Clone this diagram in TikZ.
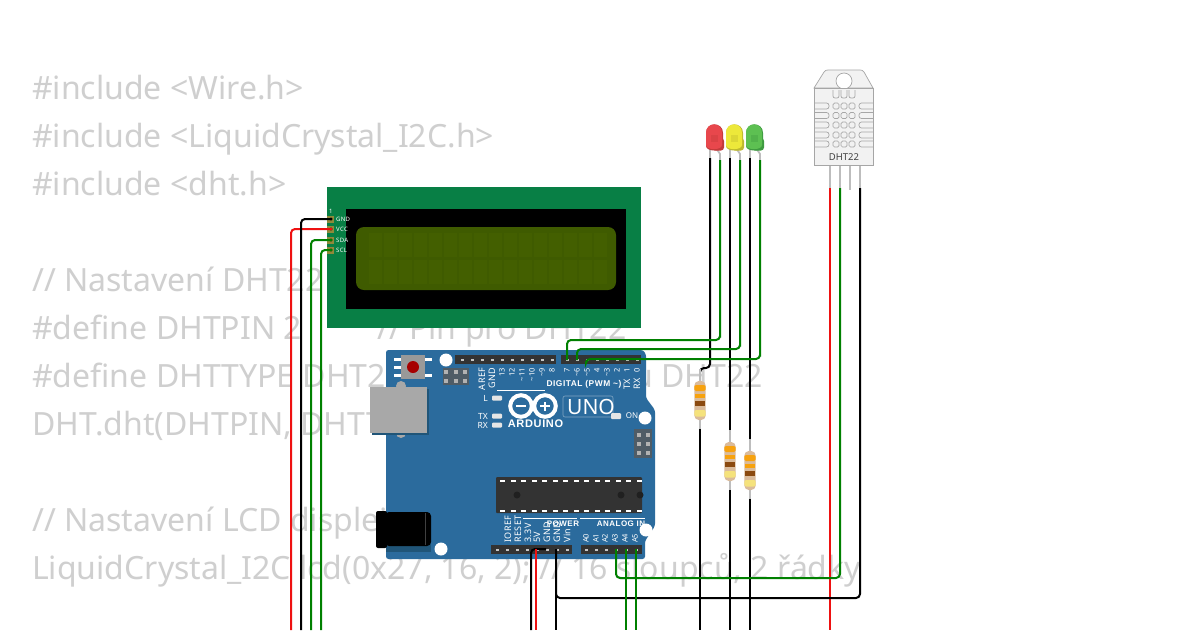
\documentclass[tikz,border=0pt]{standalone}
\usepackage{fontspec}
\setmainfont{Noto Sans}
\newfontfamily\silkfont[LetterSpace=6]{Liberation Sans}
\newfontfamily\pinfont[LetterSpace=5]{Noto Sans}
\definecolor{codegray}{HTML}{CFCFCF}
\definecolor{lcdgreen}{HTML}{087F45}
\definecolor{lcdscreen}{HTML}{3F5B00}
\definecolor{lcdcell}{HTML}{435F00}
\definecolor{board}{HTML}{2B6B9D}
\definecolor{boarddark}{HTML}{205578}
\definecolor{hdr}{HTML}{333333}
\definecolor{icspgray}{HTML}{4F5C66}
\definecolor{wiregreen}{HTML}{008000}
\definecolor{wirered}{HTML}{EE1111}
\definecolor{restan}{HTML}{DABB9B}
\definecolor{resor}{HTML}{F7A20E}
\definecolor{resbr}{HTML}{8B4A10}
\definecolor{resgo}{HTML}{F5E27C}
\definecolor{leadgray}{HTML}{BDBDBD}
\definecolor{usbgray}{HTML}{A8A8A8}
\definecolor{ledRm}{HTML}{E8474C}
\definecolor{ledRd}{HTML}{C23A3A}
\definecolor{ledYm}{HTML}{EDE83A}
\definecolor{ledYd}{HTML}{BDB92E}
\definecolor{ledGm}{HTML}{5DC052}
\definecolor{ledGd}{HTML}{3E9A40}
\tikzset{
 code/.style={anchor=base west,text=codegray,font=\fontsize{32}{32}\selectfont,inner sep=0pt},
 wire/.style={line width=2pt,rounded corners=4pt},
 lead/.style={line width=2.2pt,draw=leadgray},
 pinlab/.style={rotate=90,text=white,font=\pinfont\fontsize{9}{9}\selectfont,inner sep=0pt},
 pinlabsmall/.style={rotate=90,text=white,font=\fontsize{7.5}{8}\selectfont,inner sep=0pt},
 pinlabt/.style={pinlab,anchor=east},
 pinlabb/.style={pinlab,anchor=west},
 numlab/.style={pinlabsmall,anchor=east},
 analab/.style={pinlabsmall,anchor=west},
 silk/.style={text=white,font=\silkfont\bfseries\fontsize{8}{8}\selectfont,inner sep=0pt},
 lcdlab/.style={text=white,font=\pinfont\fontsize{6}{6}\selectfont,inner sep=0pt,anchor=west},
 hole/.style={circle,fill=white,minimum size=13pt,inner sep=0pt},
 ledchip/.style={fill=white!90!black,draw=none,rounded corners=1pt},
 dhtline/.style={draw=gray!70,line width=.7pt},
}
\newcommand{\resistorat}[3]{% x, y of body top, name
 \coordinate (#3top) at (#1,#2-12);
 \coordinate (#3bot) at (#1,#2+48);
 \draw[lead] (#3top) -- (#3bot);
 \fill[restan,rounded corners=4.5pt] (#1-5.7,#2) rectangle (#1+5.7,#2+39);
 \fill[resor,rounded corners=1.5pt] (#1-5.7,#2+4) rectangle (#1+5.7,#2+10);
 \fill[resor] (#1-4.8,#2+12.5) rectangle (#1+4.8,#2+17);
 \fill[resbr] (#1-4.8,#2+20) rectangle (#1+4.8,#2+24.5);
 \fill[resgo,rounded corners=2pt] (#1-5.7,#2+29) rectangle (#1+5.7,#2+35.5);
}
\newcommand{\ledat}[4]{% x left, main colour, dark colour, name
 \draw[leadgray,line width=1.8pt] (#1+4,148) -- (#1+4,159);
 \draw[leadgray,line width=1.8pt] (#1+10,148) -- (#1+14,154) -- (#1+14,161);
 \fill[#3,rounded corners=3pt] (#1+6,138) rectangle (#1+18,150.5);
 \fill[#3] (#1,133) .. controls (#1,121.5) and (#1+17,121.5) .. (#1+17,133) -- (#1+17,146) .. controls (#1+17,152) and (#1,152) .. (#1,146) -- cycle;
 \fill[#2] (#1,133) .. controls (#1,121.5) and (#1+16,121.5) .. (#1+16,133) -- (#1+16,145) .. controls (#1+16,150.5) and (#1,150.5) .. (#1,145) -- cycle;
 \fill[#3,opacity=.35] (#1+5,135) rectangle (#1+12,142);
 \coordinate (#4k) at (#1+4,158);
 \coordinate (#4a) at (#1+14,160);
}
\begin{document}
\begin{tikzpicture}[x=1pt,y=-1pt]
\useasboundingbox (0,0) rectangle (1200,630);
\fill[white] (0,0) rectangle (1200,630);
% ---- code text
\node[code] (t1) at (32,99) {\#include <Wire.h>};
\node[code] (t2) at (32,147) {\#include <LiquidCrystal\_I2C.h>};
\node[code] (t3) at (32,195) {\#include <dht.h>};
\node[code] (t4) at (32,291) {// Nastavení DHT22};
\node[code] (t5) at (32,339) {\#define DHTPIN 2};
\node[code] (t5b) at (377,339) {// Pin pro DHT22};
\node[code] (t6) at (32,387) {\#define DHTTYPE DHT22};
\node[code,anchor=base east] (t6b) at (763,387) {// Typ senzoru DHT22};
\node[code] (t7) at (32,435) {DHT.dht(DHTPIN, DHTTYPE);};
\node[code] (t8) at (32,531) {// Nastavení LCD displeje (0x27 je běžná)};
\node[code] (t9) at (32,579) {LiquidCrystal\_I2C lcd(0x27, 16, 2); // 16 sloupců, 2 řádky};
% ---- LCD
\fill[lcdgreen] (327,187) rectangle (641,328);
\fill[black] (346,209) rectangle (626,309);
\fill[lcdscreen,rounded corners=8pt] (356,227) rectangle (616,290);
\foreach \c in {0,...,15}{
 \fill[lcdcell] ({369+\c*15},233) rectangle ({382+\c*15},257);
 \fill[lcdcell] ({369+\c*15},260) rectangle ({382+\c*15},284);
}
\foreach \y/\n/\t in {219/GND/GND,229/VCC/VCC,240/SDA/SDA,250/SCL/SCL}{
 \fill[olive!60!gray] (327,\y-3.5) rectangle (334,\y+3.5);
 \fill[black] (331,\y) circle (1.6);
 \node[lcdlab] (lab\n) at (336,\y) {\t};
 \coordinate (lcd\n) at (332,\y);
}
\node[lcdlab] (lcdone) at (329,211) {1};
% ---- Arduino board
\fill[board,rounded corners=2.5pt] (386,350) -- (643,350) -- (646,354) -- (646,398) -- (655,410) -- (655,526) -- (645,541) -- (645,559) -- (386,559) -- cycle;
% USB
\fill[usbgray] (401,386) circle (5);
\fill[usbgray] (401,433) circle (5);
\fill[boarddark] (372,389) rectangle (429,435);
\fill[usbgray] (370,387) rectangle (427,433);
% Jack
\fill[boarddark] (386,540) rectangle (431,552);
\fill[black,rounded corners=2pt] (376,511) rectangle (387,548);
\fill[black,rounded corners=4pt] (385,512) rectangle (431,546);
\draw[gray!50!black,line width=.6pt] (425,513) -- (425,545);
% Reset button
\foreach \y in {359,367,375}{\fill[white] (394,\y-1.5) rectangle (402,\y+1.5);}
\foreach \y in {359,375}{\fill[white] (424,\y-1.5) rectangle (432,\y+1.5);}
\fill[gray!80] (401,355) rectangle (425,379);
\fill[red!65!black] (413,367) circle (6);
% ICSP top-left
\fill[icspgray] (443,368) rectangle (469,385);
\foreach \x in {446,456,465}\foreach \y in {372,381}{\fill[gray!60] (\x-2,\y-2) rectangle (\x+2,\y+2);}
% Holes
\node[hole] (h1) at (446,360) {};
\node[hole] (h2) at (645,418) {};
\node[hole] (h3) at (646,530) {};
\node[hole] (h4) at (441,549) {};
% Headers
\fill[hdr] (455,355) rectangle (556,364);
\fill[hdr] (561,355) rectangle (641,364);
\fill[hdr] (491,545) rectangle (572,554);
\fill[hdr] (581,545) rectangle (642,554);
\foreach \x in {462,472,...,552,567,577,...,637}{\fill[gray!45] (\x-1.5,358.5) rectangle (\x+1.5,360.5);}
\foreach \x in {497,507,...,567,586,596,...,636}{\fill[gray!45] (\x-1.5,548.5) rectangle (\x+1.5,550.5);}
% Top labels
\node[pinlabt] (larf) at (482,367.5) {AREF};
\node[pinlabt] (lgnd) at (492,367.5) {GND};
\foreach \x/\t in {502/13,512/12,522/\textasciitilde 11,532/\textasciitilde 10,542/\textasciitilde 9,552/8,567/7,577/\textasciitilde 6,587/\textasciitilde 5,597/4,607/\textasciitilde 3,617/2,627/1,637/0}{
 \node[numlab] at (\x,368) {\t};
}
\node[pinlabb] (ltx) at (627,390) {TX};
\node[pinlabb] (lrx) at (637,390) {RX};
\draw[white,line width=.6pt] (497,390) -- (545,390);
\node[silk,anchor=east,font=\silkfont\bfseries\fontsize{8.4}{9}\selectfont] (dig) at (621.5,384.5) {DIGITAL (PWM \textasciitilde)};
% Logo
\draw[white,line width=4pt] (521,406) circle (10.8);
\draw[white,line width=4pt] (545,406) circle (10.8);
\fill[white] (516,405) rectangle (525.5,407.2);
\fill[white] (540,405) rectangle (549.5,407.2);
\fill[white] (543.7,401.5) rectangle (545.9,410.5);
\node[silk,font=\silkfont\bfseries\fontsize{11}{11}\selectfont] (ard) at (535.5,424) {ARDUINO};
\draw[white!40!board,line width=.6pt,rounded corners=2pt] (563,396) rectangle (613,417);
\node[text=white,font=\fontsize{21}{21}\selectfont,inner sep=0pt] (uno) at (591,407) {UNO};
\fill[ledchip] (611,413) rectangle (621,419);
\node[text=white,font=\fontsize{8}{8}\selectfont,inner sep=0pt] (on) at (632,416) {ON};
\fill[icspgray] (634,429) rectangle (652,458);
\foreach \x in {639,648}\foreach \y in {435,444,453}{\fill[gray!60] (\x-2,\y-2) rectangle (\x+2,\y+2);}
% Small LEDs
\foreach \y/\t in {398/L,416/TX,425/RX}{
 \fill[ledchip] (492,\y-2.5) rectangle (502,\y+2.5);
 \node[text=white,font=\fontsize{8.5}{8.5}\selectfont,inner sep=0pt,anchor=east] at (488,\y) {\t};
}
% IC
\fill[gray!40!black,rounded corners=1pt] (496,477) rectangle (642,513);
\foreach \x in {500,510.5,...,640}{\fill[white] (\x,479.5) rectangle (\x+5,481.5);\fill[white] (\x,510) rectangle (\x+5,512);}
\fill[gray!25!black] (517,495) circle (3.5);
\fill[gray!25!black] (621,495) circle (3.5);
\fill[gray!25!black] (640,495) circle (3.5);
% Bottom labels
\foreach \x/\t in {508/IOREF,518/RESET,528/3.3V,537/5V,547/GND,557/GND,567/Vin}{
 \node[pinlabb] at (\x,543) {\t};
}
\foreach \x/\t in {586/A0,596/A1,605/A2,615/A3,625/A4,635/A5}{
 \node[analab] at (\x,543) {\t};
}
\draw[white,line width=.6pt] (523,518.5) -- (577,518.5);
\draw[white,line width=.6pt] (580,518.5) -- (645,518.5);
\node[silk] (pow) at (563,524) {POWER};
\node[silk] (ana) at (621,524) {ANALOG IN};
% ---- coordinates for wires
\foreach \n/\x in {g/291,k/301,m/311,n/321,ga/531,re/536,gb/556,aa/626,ab/636,ra/830,ka/700,kb/730,kc/750}{\coordinate (b\n) at (\x,630);}
\coordinate (pGNDa) at (546,549);
\coordinate (p5V) at (536,549);
\coordinate (pGNDb) at (556,549);
\coordinate (pA3) at (616,549);
\coordinate (pA4) at (626,549);
\coordinate (pA5) at (636,549);
\coordinate (p7) at (567,360);
\coordinate (p6) at (577,360);
\coordinate (p5) at (586,361);
\coordinate (j7) at (720,340);
\coordinate (j6) at (740,349);
\coordinate (j5) at (760,359);
\coordinate (rabend) at (710,368);
\coordinate (rabendb) at (700,368);
% ---- LCD wires
\draw[wire,wirered] (lcdVCC) -| (bg);
\draw[wire,black] (lcdGND) -| (bk);
\draw[wire,wiregreen] (lcdSDA) -| (bm);
\draw[wire,wiregreen] (lcdSCL) -| (bn);
% ---- LEDs
\ledat{706}{ledRm}{ledRd}{ledr}
\ledat{726}{ledYm}{ledYd}{ledy}
\ledat{746}{ledGm}{ledGd}{ledg}
% ---- LED wires
\draw[wire,black] (ledrk) -- (rabend) -- (rabendb) -- (700,372);
\draw[wire,black] (ledyk) -- (730,432);
\draw[wire,black] (ledgk) -- (750,442);
\draw[wire,black] (700,426) -- (bka);
\draw[wire,black] (730,488) -- (bkb);
\draw[wire,black] (750,498) -- (bkc);
\draw[wire,wiregreen] (ledra) |- (j7) -| (p7);
\draw[wire,wiregreen] (ledya) |- (j6) -| (p6);
\draw[wire,wiregreen] (ledga) |- (j5) -| (p5);
% ---- Resistors
\resistorat{700}{381}{ra}
\resistorat{730}{442}{rb}
\resistorat{750}{451}{rc}
% ---- DHT22
\foreach \x in {830,840,850,860}{\draw[leadgray,line width=2.6pt] (\x,165) -- (\x,190);}
\path[fill=white!95!black,dhtline] (814,88) -- (824,72) .. controls (825,70.5) and (826,70) .. (828,70) -- (860,70) .. controls (862,70) and (863,70.5) .. (864,72) -- (873,88) -- cycle;
\node[circle,dhtline,fill=white,minimum size=16pt,inner sep=0pt] (dhthole) at (844,81) {};
\path[fill=white!95!black,dhtline] (814,88) rectangle (873,165);
\foreach \y in {106,115.5,125,135,144}{
 \draw[dhtline,rounded corners=2.5pt] (814,\y-3) -- (829,\y-3) -- (829,\y+3) -- (814,\y+3);
 \draw[dhtline,rounded corners=2.5pt] (873,\y-3) -- (859,\y-3) -- (859,\y+3) -- (873,\y+3);
 \foreach \x in {836,844,852}{\draw[dhtline,rounded corners=1.5pt] (\x-3,\y-3) rectangle (\x+3,\y+3);}
}
\foreach \x in {836,844,852}{\draw[dhtline,rounded corners=2pt] (\x-3,90) -- (\x-3,98) -- (\x+3,98) -- (\x+3,90);}
\node[text=black!75,font=\fontsize{9.5}{10}\selectfont,inner sep=0pt] (dhtname) at (844,157) {DHT22};
\coordinate (dhtV) at (830,188);
\coordinate (dhtD) at (840,188);
\coordinate (dhtG) at (860,188);
\coordinate (jA3) at (840,578);
\coordinate (jG) at (860,598);
\draw[wire,wirered] (dhtV) -- (bra);
\draw[wire,wiregreen] (pA3) |- (jA3) -- (dhtD);
\draw[wire,black] (pGNDb) |- (jG) -- (dhtG);
% ---- Arduino bottom wires
\draw[wire,black] (pGNDa) -| (bga);
\draw[wire,wirered] (p5V) -- (bre);
\draw[wire,black] (pGNDb) -- (bgb);
\draw[wire,wiregreen] (pA4) -- (baa);
\draw[wire,wiregreen] (pA5) -- (bab);
\end{tikzpicture}
\end{document}
